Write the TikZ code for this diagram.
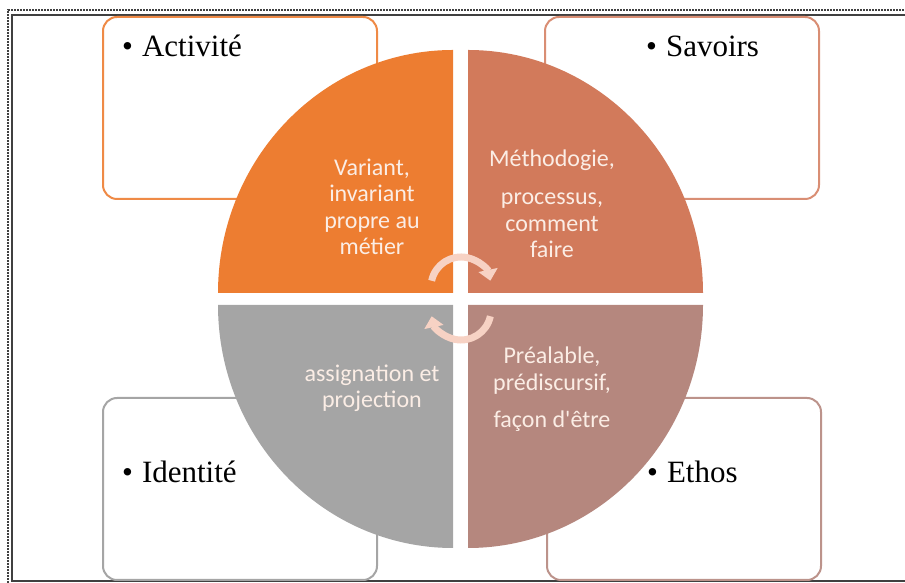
\documentclass[tikz,border=0pt]{standalone}
\usepackage{fontspec}
\setmainfont{Liberation Serif}
\newfontfamily\calibri{Carlito}
\usetikzlibrary{arrows.meta}
\definecolor{activite}{HTML}{ED7D31}
\definecolor{savoirs}{HTML}{D27A5B}
\definecolor{identite}{HTML}{A5A5A5}
\definecolor{ethos}{HTML}{B5877E}
\definecolor{cream}{HTML}{FBEDE5}
\definecolor{turnpink}{HTML}{F7D2C4}
\definecolor{framegray}{HTML}{404040}

\begin{document}
\begin{tikzpicture}[x=1pt,y=1pt,
  box/.style={draw, line width=2pt, rounded corners=14pt, fill=white,
    minimum width=274pt, minimum height=182pt},
  title/.style={font=\fontsize{31}{36}\selectfont, anchor=base west, inner sep=0pt},
  inside/.style={font=\calibri\fontsize{24}{26.5}\selectfont, text=cream,
    align=center, anchor=base, inner sep=0pt},
  turn/.style={line width=7pt, draw=turnpink, -{Triangle[width=19pt,length=11pt]}}
  ]
\useasboundingbox (0,0) rectangle (905,583);
% page frame
\draw[framegray, line width=2pt, densely dotted] (8,0) -- (8,573) -- (905,573);
\draw[framegray, line width=2pt] (905,568) -- (12,568) -- (12,1.5) -- (905,1.5);
% boxes behind the circle
\node[box, draw=activite!90] (activite) at (240,475) {};
\node[box, draw=savoirs!85] (savoirs) at (682,475) {};
\node[box, draw=identite] (identite) at (240,94) {};
\node[box, draw=ethos!90] (ethos) at (684,94) {};
\node[title] (tact) at (122,526) {\textbullet\hspace{9pt}Activité};
\node[title] (tsav) at (646,526) {\textbullet\hspace{9pt}Savoirs};
\node[title] (tide) at (122,100) {\textbullet\hspace{9pt}Identité};
\node[title] (teth) at (647,100) {\textbullet\hspace{9pt}Ethos};
% four quarters
\fill[activite] (453,290) -- (218,290) arc[start angle=180, end angle=90, x radius=235, y radius=243] -- cycle;
\fill[savoirs] (468,290) -- (468,533) arc[start angle=90, end angle=0, x radius=235, y radius=243] -- cycle;
\fill[identite] (453,278) -- (453,35) arc[start angle=270, end angle=180, x radius=235, y radius=243] -- cycle;
\fill[ethos] (468,278) -- (703,278) arc[start angle=0, end angle=-90, x radius=235, y radius=243] -- cycle;
\node[inside] (qact) at (372,328) {Variant,\\invariant\\propre au\\métier};
\node[inside] (qsav) at (552,325) {Méthodogie,\\[12pt]processus,\\comment\\faire};
\node[inside] (qide) at (372,175) {assignation et\\projection};
\node[inside] (qeth) at (552,155) {Préalable,\\prédiscursif,\\[11pt]façon d'être};
% turning arrows
\draw[turn] (461,296) ++(168:30) arc[start angle=168, end angle=12, radius=30];
\draw[turn] (461,273) ++(348:30) arc[start angle=348, end angle=192, radius=30];
\end{tikzpicture}
\end{document}
